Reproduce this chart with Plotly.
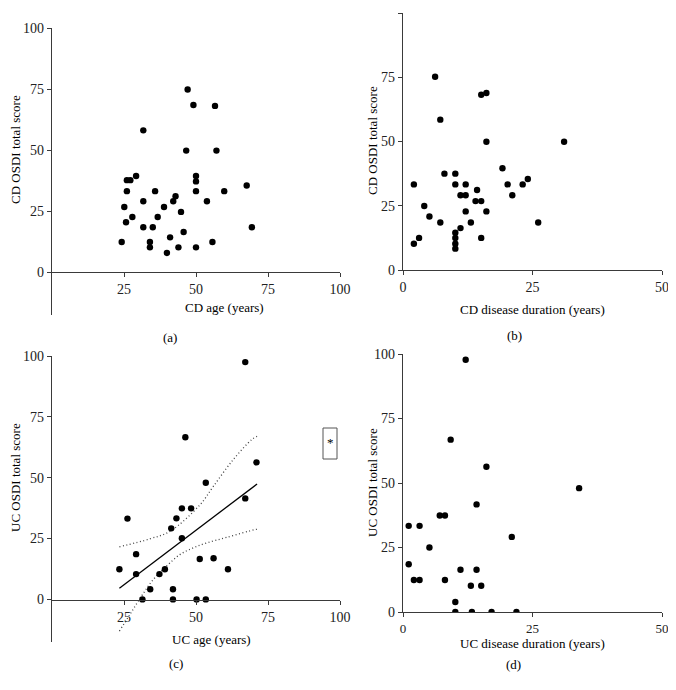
import plotly.graph_objects as go

W, H = 676, 690
OFF = 8  # the page body has an 8px margin; the figure is shrunk and shifted to compensate

# ---------------- data ----------------
cd_age = [24.2, 25.1, 25.7, 26.0, 26.0, 27.2, 27.9, 29.2, 31.7, 31.7, 31.7, 34.0, 34.0, 35.0,
          35.8, 36.7, 38.9, 39.9, 41.0, 42.1, 42.9, 43.9, 44.8, 45.7, 46.6, 47.1, 49.1, 50.0,
          50.0, 50.0, 50.0, 53.8, 55.7, 56.6, 57.1, 59.8, 67.6, 69.4]
cd_age_osdi = [12.4, 26.7, 20.5, 33.2, 37.7, 37.7, 22.6, 39.4, 58.1, 29.1, 18.4, 12.4, 10.2, 18.4,
               33.2, 22.6, 26.7, 7.9, 14.3, 29.1, 31.1, 10.2, 24.7, 16.5, 49.8, 74.8, 68.5, 39.4,
               37.2, 33.2, 10.2, 29.1, 12.4, 68.1, 49.8, 33.2, 35.5, 18.4]

cd_dur = [2.1, 2.1, 3.1, 4.1, 5.1, 6.2, 7.2, 7.2, 8.0, 10.1, 10.1, 10.1, 10.1, 10.1, 10.1, 11.1,
          11.1, 12.1, 12.1, 12.1, 13.1, 14.0, 14.3, 15.1, 15.1, 15.1, 16.1, 16.1, 16.1, 19.2,
          20.2, 21.1, 23.1, 24.1, 26.1, 31.1]
cd_dur_osdi = [33.3, 10.2, 12.5, 24.9, 20.8, 75.2, 58.5, 18.5, 37.5, 37.5, 33.3, 14.5, 12.5, 10.2,
               8.3, 16.3, 29.1, 33.3, 29.1, 22.8, 18.5, 26.8, 31.1, 26.8, 12.5, 68.2, 68.9, 49.9,
               22.8, 39.6, 33.3, 29.1, 33.3, 35.4, 18.5, 49.9]

uc_age = [23.4, 26.2, 29.2, 29.2, 31.4, 34.1, 37.3, 39.2, 41.4, 42.0, 42.0, 43.2, 45.1, 45.1,
          46.3, 48.3, 50.2, 51.3, 53.4, 53.4, 56.1, 61.1, 67.1, 67.1, 71.0]
uc_age_osdi = [12.4, 33.2, 18.6, 10.4, 0.0, 4.2, 10.4, 12.4, 29.2, 4.2, 0.0, 33.3, 37.4, 25.1,
               66.6, 37.4, 0.0, 16.6, 47.9, 0.0, 16.9, 12.4, 97.5, 41.5, 56.3]

uc_dur = [1.1, 1.1, 2.1, 3.2, 3.2, 5.1, 7.1, 8.1, 8.1, 9.2, 10.1, 10.1, 11.1, 12.1, 13.1, 13.3,
          14.2, 14.2, 15.1, 16.1, 17.1, 21.0, 21.9, 34.0]
uc_dur_osdi = [33.4, 18.5, 12.4, 12.4, 33.4, 25.0, 37.4, 37.4, 12.4, 66.8, 3.9, 0.0, 16.4, 97.8,
               10.2, 0.0, 41.7, 16.4, 10.2, 56.3, 0.0, 29.1, 0.0, 48.0]

# linear fit and 95% band of panel (c)
fit_x = [23.4, 71.2]
fit_y = [4.6, 47.4]
upper_x = [23.4, 34.0, 41.0, 51.4, 56.0, 62.9, 69.3, 71.2]
upper_y = [21.6, 24.9, 28.0, 38.9, 46.4, 57.4, 65.6, 67.0]
lower_x = [23.4, 27.1, 31.1, 35.2, 39.8, 44.4, 49.1, 53.7, 60.7, 70.5, 71.2]
lower_y = [-13.0, -6.1, 1.4, 8.2, 13.7, 18.4, 21.2, 23.2, 25.5, 28.7, 28.8]

y_ticks = [0, 25, 50, 75, 100]
age_ticks = [25, 50, 75, 100]
dur_ticks = [0, 25, 50]

# ---------------- layout helpers ----------------
FONT = "Liberation Serif, Times New Roman, serif"
AX = "#3a3a3a"
FW, FH = W - OFF, H - OFF


def px(x):
    return (x - OFF) / FW


def py(y):
    return 1 - (y - OFF) / FH


fig = go.Figure()

mk = dict(color="black", size=6.4)
band = dict(color="#444", width=1.3, dash="1px,2.5px", shape="spline")
fig.add_trace(go.Scatter(x=cd_age, y=cd_age_osdi, mode="markers", marker=mk, xaxis="x", yaxis="y"))
fig.add_trace(go.Scatter(x=cd_dur, y=cd_dur_osdi, mode="markers", marker=mk, xaxis="x2", yaxis="y2"))
fig.add_trace(go.Scatter(x=upper_x, y=upper_y, mode="lines", line=band, xaxis="x3", yaxis="y3"))
fig.add_trace(go.Scatter(x=lower_x, y=lower_y, mode="lines", line=band, xaxis="x3", yaxis="y3"))
fig.add_trace(go.Scatter(x=fit_x, y=fit_y, mode="lines", line=dict(color="black", width=1.3), xaxis="x3", yaxis="y3"))
fig.add_trace(go.Scatter(x=uc_age, y=uc_age_osdi, mode="markers", marker=mk, xaxis="x3", yaxis="y3"))
fig.add_trace(go.Scatter(x=uc_dur, y=uc_dur_osdi, mode="markers", marker=mk, xaxis="x4", yaxis="y4"))

base = dict(showgrid=False, zeroline=False, showline=True, linecolor=AX, linewidth=1.2,
            ticks="outside", ticklen=4, tickcolor=AX, tickwidth=1.2, automargin=False,
            tickfont=dict(family=FONT, size=14, color="#222"), fixedrange=True)

fig.update_layout(
    xaxis=dict(base, domain=[px(52), px(340)], range=[0, 100], tickvals=age_ticks,
               anchor="free", position=py(272)),
    yaxis=dict(base, domain=[py(315), py(28)], range=[-17.5, 100], tickvals=y_ticks, anchor="x"),
    xaxis2=dict(base, domain=[px(403), px(662)], range=[0, 50], tickvals=dur_ticks, anchor="y2"),
    yaxis2=dict(base, domain=[py(270), py(13)], range=[0, 100], tickvals=y_ticks, anchor="x2"),
    xaxis3=dict(base, domain=[px(52), px(340)], range=[0, 100], tickvals=age_ticks,
                anchor="free", position=py(600)),
    yaxis3=dict(base, domain=[py(642), py(356)], range=[-17.5, 100], tickvals=y_ticks, anchor="x3"),
    xaxis4=dict(base, domain=[px(403), px(662)], range=[0, 50], tickvals=dur_ticks, anchor="y4",
                tickfont=dict(family=FONT, size=13, color="#222")),
    yaxis4=dict(base, domain=[py(612), py(354)], range=[0, 100], tickvals=y_ticks, anchor="x4"),
)

anns = []


def txt(s, x, y, angle=0, size=13):
    anns.append(dict(text=s, x=px(x), y=py(y), xref="paper", yref="paper", showarrow=False,
                     textangle=angle, xanchor="center", yanchor="middle",
                     font=dict(family=FONT, size=size, color="black")))


txt("CD OSDI total score", 15, 150, -90)
txt("CD age (years)", 224, 307)
txt("(a)", 170, 337)
txt("CD OSDI total score", 372, 141, -90)
txt("CD disease duration (years)", 532, 309)
txt("(b)", 514, 335)
txt("UC OSDI total score", 15, 478, -90)
txt("UC age (years)", 211, 639)
txt("(c)", 176, 663)
txt("UC OSDI total score", 372, 483, -90)
txt("UC disease duration (years)", 532, 643)
txt("(d)", 513, 664)
txt("*", 330, 442, size=13)

fig.update_layout(
    width=FW, height=FH, margin=dict(l=0, r=0, t=0, b=0),
    paper_bgcolor="white", plot_bgcolor="white", showlegend=False,
    annotations=anns,
    shapes=[dict(type="rect", xref="paper", yref="paper", x0=px(323), x1=px(337),
                 y0=py(459), y1=py(428), line=dict(color="#555", width=1))],
)

fig.write_html("out.html")
